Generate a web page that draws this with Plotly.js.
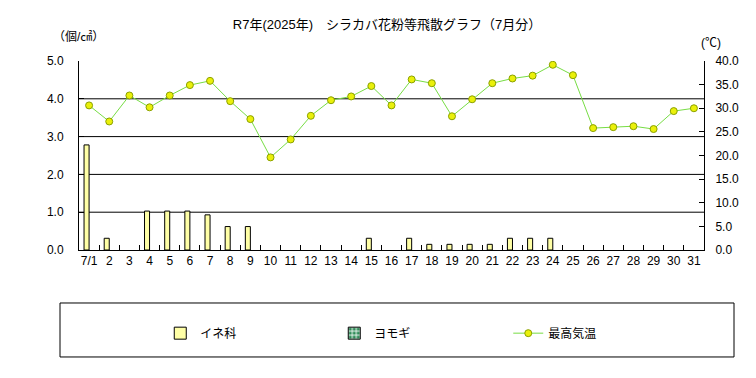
<!DOCTYPE html>
<html><head><meta charset="utf-8">
<script src="https://cdn.plot.ly/plotly-3.0.1.min.js"></script>
<style>html,body{margin:0;padding:0;background:#fff}#chart{width:756px;height:378px}</style>
</head><body><div id="chart"></div>
<script>
const days = ['7/1','2','3','4','5','6','7','8','9','10','11','12','13','14','15','16','17','18','19','20','21','22','23','24','25','26','27','28','29','30','31'];
const ine = [2.78,0.31,0,1.03,1.03,1.03,0.93,0.62,0.62,0,0,0,0,0,0.31,0,0.31,0.15,0.15,0.15,0.15,0.31,0.31,0.31,0,0,0,0,0,0,0];
const yomogi = [0,0,0,0,0,0,0,0,0,0,0,0,0,0,0,0,0,0,0,0,0,0,0,0,0,0,0,0,0,0,0];
const tmax = [30.6,27.2,32.7,30.2,32.7,34.9,35.8,31.5,27.7,19.6,23.4,28.4,31.7,32.5,34.7,30.6,36.1,35.3,28.3,31.9,35.3,36.3,36.9,39.2,37.0,25.8,26.0,26.2,25.6,29.4,30.0];
const gridVals = [1,2,3,4];

const FONT = 'Liberation Sans, Noto Sans CJK JP, sans-serif';
const hideZero = arr => arr.map(v => v === 0 ? null : v);

const traces = [
  {type:'bar', name:'イネ科', x:days, y:hideZero(ine),
   marker:{color:'#ffffa6', line:{color:'#000', width:1}}, yaxis:'y'},
  {type:'bar', name:'ヨモギ', x:days, y:hideZero(yomogi),
   marker:{color:'#2e8b57', line:{color:'#000', width:1},
           pattern:{shape:'+', fgcolor:'#ffffff', bgcolor:'#2e8b57', size:5, solidity:0.4}}, yaxis:'y'},
  {type:'scatter', mode:'lines+markers', name:'最高気温', x:days, y:tmax, yaxis:'y2',
   line:{color:'#77dd44', width:1},
   marker:{size:7, color:'#eaf00a', line:{color:'#8aa000', width:1}}}
];

const shapes = gridVals.map(v => ({type:'line', xref:'paper', x0:0, x1:1, yref:'y', y0:v, y1:v,
  line:{color:'#000', width:1}, layer:'below'}));
shapes.push({type:'rect', xref:'paper', yref:'paper', x0:-0.0304, x1:1.048, y0:-0.566, y1:-0.2804,
  line:{color:'#000', width:1}, fillcolor:'rgba(0,0,0,0)'});

const layout = {
  width:756, height:378,
  margin:{l:79, r:52, t:61, b:128},
  paper_bgcolor:'#fff', plot_bgcolor:'#fff',
  font:{family:FONT, size:12, color:'#000'},
  title:{text:'R7年(2025年)　シラカバ花粉等飛散グラフ（7月分）', x:0.512, xanchor:'center', y:0.935, yanchor:'middle',
         font:{family:FONT, size:13, color:'#000'}},
  barmode:'group', bargap:0.5, bargroupgap:0,
  showlegend:true,
  legend:{orientation:'h', x:0.13, xanchor:'left', y:-0.44, yanchor:'middle',
          entrywidth:129, font:{family:FONT, size:12}, bgcolor:'rgba(0,0,0,0)', traceorder:'normal'},
  xaxis:{type:'category', range:[-0.5,30.5], autorange:false, showline:true, linecolor:'#000', linewidth:1, ticks:'inside', tickson:'boundaries',
         ticklen:5, tickcolor:'#000', showgrid:false, tickfont:{size:12}, tickangle:0, automargin:false, fixedrange:true},
  yaxis:{range:[0,5], tickvals:[0,1,2,3,4,5], tickformat:'.1f', showline:true, linecolor:'#000', linewidth:1,
         ticks:'inside', ticklen:5, tickcolor:'#000', showgrid:false, zeroline:false, ticklabelstandoff:12, automargin:false},
  yaxis2:{range:[0,40], tickvals:[0,5,10,15,20,25,30,35,40], tickformat:'.1f', overlaying:'y', side:'right',
          showline:true, linecolor:'#000', linewidth:1, ticks:'inside', ticklen:5, tickcolor:'#000',
          showgrid:false, zeroline:false, ticklabelstandoff:8, automargin:false},
  shapes:shapes,
  annotations:[
    {text:'（個/㎠）', xref:'paper', yref:'paper', x:-0.0016, y:1.127, xanchor:'center', yanchor:'middle', showarrow:false, font:{size:12}},
    {text:'(℃)', xref:'paper', yref:'paper', x:1.011, y:1.095, xanchor:'center', yanchor:'middle', showarrow:false, font:{size:12}}
  ]
};
Plotly.newPlot('chart', traces, layout, {staticPlot:true, displayModeBar:false});
</script></body></html>
